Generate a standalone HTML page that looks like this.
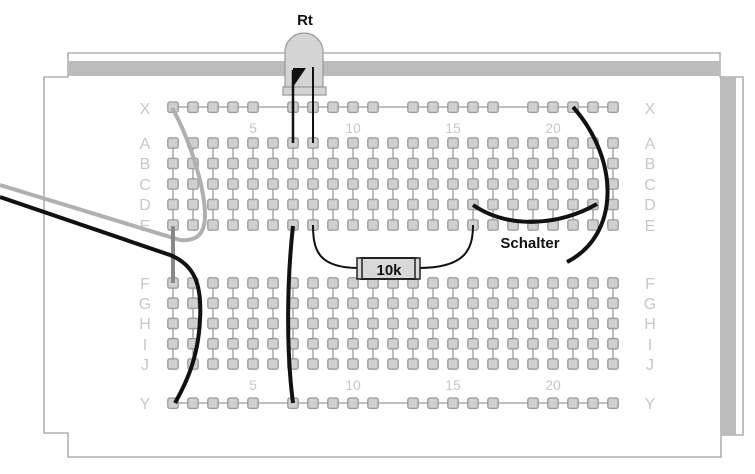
<!DOCTYPE html>
<html><head><meta charset="utf-8"><style>
html,body{margin:0;padding:0;background:#fff;}
svg{display:block;}
</style></head><body>
<svg width="755" height="474" viewBox="0 0 755 474" xmlns="http://www.w3.org/2000/svg" font-family="Liberation Sans, Arial, sans-serif">
<defs>
<pattern id="h1" patternUnits="userSpaceOnUse" x="163" y="132.8" width="20" height="20.5">
<rect x="4.8" y="5" width="10.4" height="10.4" rx="2" fill="#d0d0d0" stroke="#999" stroke-width="1.3"/>
</pattern>
<pattern id="h2" patternUnits="userSpaceOnUse" x="163" y="272.8" width="20" height="20.25">
<rect x="4.8" y="5" width="10.4" height="10.4" rx="2" fill="#d0d0d0" stroke="#999" stroke-width="1.3"/>
</pattern>
<pattern id="hx" patternUnits="userSpaceOnUse" x="163" y="97" width="20" height="20">
<rect x="4.8" y="5" width="10.4" height="10.4" rx="2" fill="#d0d0d0" stroke="#999" stroke-width="1.3"/>
</pattern>
<pattern id="hy" patternUnits="userSpaceOnUse" x="163" y="393" width="20" height="20">
<rect x="4.8" y="5" width="10.4" height="10.4" rx="2" fill="#d0d0d0" stroke="#999" stroke-width="1.3"/>
</pattern>
<pattern id="vl" patternUnits="userSpaceOnUse" x="163" y="0" width="20" height="10">
<line x1="10" y1="0" x2="10" y2="10" stroke="#999" stroke-width="1.3"/>
</pattern>
</defs>

<!-- board -->
<path d="M44,77 H68 V53 H720 V77 H743 V435 H721 V457 H68 V433 H44 Z" fill="#fff" stroke="#a0a0a0" stroke-width="1.3"/>
<rect x="68" y="61" width="652" height="15" fill="#bcbcbc"/>
<rect x="720" y="77" width="16" height="358" fill="#bcbcbc"/>

<!-- labels -->
<g fill="#c8c8c8" font-size="16" text-anchor="middle">
<text x="145" y="114">X</text><text x="650" y="114">X</text>
<text x="145" y="149">A</text><text x="145" y="169">B</text><text x="145" y="190">C</text><text x="145" y="210">D</text><text x="145" y="231">E</text>
<text x="650" y="149">A</text><text x="650" y="169">B</text><text x="650" y="190">C</text><text x="650" y="210">D</text><text x="650" y="231">E</text>
<text x="145" y="289">F</text><text x="145" y="309">G</text><text x="145" y="329">H</text><text x="145" y="350">I</text><text x="145" y="370">J</text>
<text x="650" y="289">F</text><text x="650" y="309">G</text><text x="650" y="329">H</text><text x="650" y="350">I</text><text x="650" y="370">J</text>
<text x="145" y="409">Y</text><text x="650" y="409">Y</text>
</g>
<g fill="#c8c8c8" font-size="14" text-anchor="middle">
<text x="253" y="133">5</text><text x="353" y="133">10</text><text x="453" y="133">15</text><text x="553" y="133">20</text>
<text x="253" y="390">5</text><text x="353" y="390">10</text><text x="453" y="390">15</text><text x="553" y="390">20</text>
</g>

<!-- column lines -->
<rect x="163" y="143" width="460" height="82" fill="url(#vl)"/>
<rect x="163" y="283" width="460" height="81" fill="url(#vl)"/>
<line x1="173" y1="107" x2="613" y2="107" stroke="#999" stroke-width="1.3"/>
<line x1="173" y1="403" x2="613" y2="403" stroke="#999" stroke-width="1.3"/>

<!-- holes -->
<rect x="163" y="132.8" width="460" height="102.5" fill="url(#h1)"/>
<rect x="163" y="272.8" width="460" height="101.25" fill="url(#h2)"/>
<g fill="url(#hx)">
<rect x="163" y="97" width="100" height="20"/><rect x="283" y="97" width="100" height="20"/>
<rect x="403" y="97" width="100" height="20"/><rect x="523" y="97" width="100" height="20"/>
</g>
<g fill="url(#hy)">
<rect x="163" y="393" width="100" height="20"/><rect x="283" y="393" width="100" height="20"/>
<rect x="403" y="393" width="100" height="20"/><rect x="523" y="393" width="100" height="20"/>
</g>

<!-- LDR -->
<text x="305" y="25" font-size="15" font-weight="bold" text-anchor="middle" fill="#111">Rt</text>
<path d="M285,88 V52 A19,19 0 0 1 323,52 V88 Z" fill="#d4d4d4" stroke="#999" stroke-width="1.2"/>
<rect x="283" y="87" width="43" height="8" fill="#d4d4d4" stroke="#999" stroke-width="1.2"/>
<path d="M293,87 V68 H306 Z" fill="#111"/>
<line x1="293" y1="70" x2="293" y2="143" stroke="#111" stroke-width="2.5"/>
<line x1="313" y1="67" x2="313" y2="143" stroke="#111" stroke-width="2"/>

<!-- resistor -->
<path d="M313,225 C313,250 318,268 359,268 M418,268 C465,268 473,250 473,225" fill="none" stroke="#111" stroke-width="2"/>
<path d="M361,258 H416 V279 H361 Z" fill="#d8d8d8" stroke="#222" stroke-width="2"/>
<rect x="357" y="258" width="5" height="21" fill="#d8d8d8" stroke="#222" stroke-width="1.5"/>
<rect x="415" y="258" width="5" height="21" fill="#d8d8d8" stroke="#222" stroke-width="1.5"/>
<text x="389" y="275" font-size="15" font-weight="bold" text-anchor="middle" fill="#111">10k</text>

<!-- wires -->
<path d="M0,185 L180,240 C210,243 208,215 200,180 C192,150 182,125 172,108" fill="none" stroke="#b0b0b0" stroke-width="4"/>
<line x1="173" y1="226" x2="173" y2="283" stroke="#888" stroke-width="4"/>
<path d="M0,197 L170,255 C195,265 202,285 200,320 C198,360 185,385 175,403" fill="none" stroke="#111" stroke-width="4"/>
<path d="M293,226 C287,280 286,350 293,403" fill="none" stroke="#111" stroke-width="4"/>
<path d="M573,107 C620,160 620,235 567,262" fill="none" stroke="#111" stroke-width="4"/>
<path d="M473,205 C510,230 560,225 597,204" fill="none" stroke="#111" stroke-width="4"/>
<text x="530" y="248" font-size="15" font-weight="bold" text-anchor="middle" fill="#111">Schalter</text>
</svg>
</body></html>
